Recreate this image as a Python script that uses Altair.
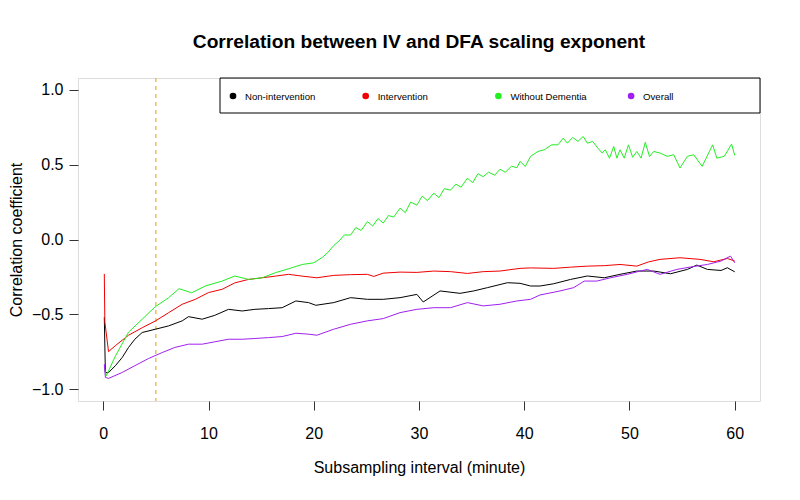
import altair as alt
import pandas as pd

# ---- data ----
series_names = ["Non-intervention", "Intervention", "Without Dementia", "Overall"]
series_colors = ["#000000", "#F00000", "#22EE22", "#A020F0"]

non_x = [0.1, 0.2, 0.5, 1.15, 1.8, 2.4, 3.0, 3.7, 4.95, 6.2, 7.5, 8.1, 9.4, 10.6, 11.9, 13.2,
         14.4, 15.7, 17.0, 18.3, 19.5, 20.2, 21.9, 23.5, 25.1, 26.6, 28.2, 29.8, 30.4, 32.0,
         33.9, 35.2, 36.5, 38.4, 39.6, 40.6, 41.5, 42.8, 44.4, 46.0, 47.6, 49.1, 50.7, 52.3,
         53.9, 55.5, 56.4, 57.4, 58.7, 59.3, 60.0]
non_y = [-0.52, -0.89, -0.89, -0.844, -0.789, -0.722, -0.667, -0.622, -0.6, -0.578, -0.544,
         -0.516, -0.533, -0.507, -0.467, -0.478, -0.467, -0.462, -0.456, -0.411, -0.422, -0.44,
         -0.422, -0.389, -0.4, -0.4, -0.389, -0.367, -0.418, -0.344, -0.36, -0.344, -0.322,
         -0.289, -0.293, -0.311, -0.311, -0.296, -0.267, -0.244, -0.256, -0.233, -0.211,
         -0.211, -0.229, -0.2, -0.171, -0.2, -0.207, -0.189, -0.216]

int_x = [0.1, 0.15, 0.5, 1.15, 2.4, 3.7, 4.95, 6.2, 7.5, 8.75, 10.0, 11.3, 12.5, 13.8, 15.1,
         16.35, 17.6, 18.9, 20.3, 21.9, 23.5, 25.1, 25.7, 26.6, 28.2, 29.8, 31.4, 33.0, 34.6,
         36.1, 37.7, 39.6, 40.6, 42.8, 44.4, 46.0, 47.6, 49.1, 50.7, 51.8, 52.9, 54.8, 56.7,
         58.0, 59.3, 60.0]
int_y = [-0.23, -0.55, -0.75, -0.71, -0.64, -0.59, -0.545, -0.49, -0.433, -0.40, -0.355,
         -0.333, -0.29, -0.267, -0.256, -0.245, -0.233, -0.245, -0.256, -0.24, -0.235, -0.233,
         -0.247, -0.225, -0.218, -0.22, -0.211, -0.215, -0.227, -0.215, -0.211, -0.193, -0.19,
         -0.193, -0.185, -0.178, -0.175, -0.167, -0.178, -0.15, -0.133, -0.122, -0.133,
         -0.149, -0.127, -0.144]

wd_x = [0.1, 0.3, 1.15, 2.4, 3.7, 4.95, 6.2, 7.2, 8.4, 9.7, 11.3, 12.5, 13.8, 15.1, 16.35,
        17.6, 18.9, 20.0, 20.8, 21.3, 21.9, 22.4, 22.9, 23.5, 24.0, 24.5, 25.1, 25.6, 26.1,
        26.6, 27.1, 27.6, 28.2, 28.7, 29.2, 29.8, 30.3, 30.8, 31.4, 31.9, 32.4, 33.0, 33.5,
        34.0, 34.6, 35.1, 35.6, 36.1, 36.6, 37.2, 37.7, 38.2, 38.8, 39.3, 39.6, 40.1, 40.6,
        41.3, 41.9, 42.6, 43.2, 43.7, 44.1, 44.6, 45.1, 45.6, 46.0, 46.5, 47.0, 47.4, 47.7,
        48.1, 48.5, 48.8, 49.1, 49.5, 49.9, 50.3, 50.7, 51.1, 51.5, 51.9, 52.3, 52.9, 53.6,
        54.2, 54.8, 55.5, 56.1, 56.9, 57.9, 58.3, 59.0, 59.7, 60.0]
wd_y = [-0.86, -0.91, -0.78, -0.62, -0.533, -0.449, -0.39, -0.329, -0.356, -0.311, -0.278,
        -0.244, -0.267, -0.256, -0.222, -0.196, -0.167, -0.156, -0.12, -0.09, -0.04, -0.01,
        0.03, 0.03, 0.08, 0.06, 0.12, 0.09, 0.14, 0.11, 0.16, 0.15, 0.21, 0.18, 0.25, 0.23,
        0.29, 0.26, 0.31, 0.28, 0.34, 0.33, 0.37, 0.35, 0.41, 0.38, 0.44, 0.42, 0.45, 0.43,
        0.47, 0.45, 0.49, 0.48, 0.522, 0.489, 0.556, 0.589, 0.6, 0.633, 0.633, 0.678, 0.644,
        0.683, 0.656, 0.689, 0.644, 0.656, 0.611, 0.578, 0.6, 0.544, 0.622, 0.544, 0.6, 0.544,
        0.633, 0.55, 0.589, 0.544, 0.65, 0.555, 0.589, 0.578, 0.556, 0.567, 0.478, 0.556,
        0.567, 0.489, 0.633, 0.544, 0.556, 0.638, 0.562]

ov_x = [0.1, 0.2, 0.5, 1.8, 3.0, 4.3, 5.6, 6.8, 8.1, 9.4, 10.6, 11.9, 13.2, 14.4, 15.7, 17.0,
        18.3, 19.5, 20.3, 21.9, 23.5, 25.1, 26.6, 28.2, 29.8, 31.4, 33.0, 34.6, 36.1, 37.7,
        39.3, 40.6, 41.5, 43.4, 44.7, 45.7, 46.9, 48.2, 49.8, 51.0, 51.7, 52.9, 54.5, 55.8,
        57.4, 58.7, 59.6, 60.0]
ov_y = [-0.833, -0.922, -0.929, -0.889, -0.844, -0.796, -0.756, -0.722, -0.7, -0.7, -0.684,
        -0.667, -0.667, -0.662, -0.656, -0.649, -0.627, -0.633, -0.64, -0.6, -0.567, -0.544,
        -0.529, -0.489, -0.467, -0.456, -0.456, -0.422, -0.444, -0.433, -0.411, -0.4, -0.371,
        -0.344, -0.322, -0.278, -0.278, -0.256, -0.233, -0.211, -0.2, -0.233, -0.2, -0.184,
        -0.167, -0.144, -0.111, -0.156]

cutoff_x = [5]
x_ticks = [0, 10, 20, 30, 40, 50, 60]
y_ticks = [-1.0, -0.5, 0.0, 0.5, 1.0]

frames = []
for order, (name, xs, ys) in enumerate(zip(series_names, [non_x, int_x, wd_x, ov_x],
                                           [non_y, int_y, wd_y, ov_y])):
    frames.append(pd.DataFrame({"x": xs, "y": ys, "series": name, "order": order}))
df = pd.concat(frames, ignore_index=True)
legend_df = pd.DataFrame({"series": series_names})

FONT = "Liberation Sans"

x_enc = alt.X("x:Q", scale=alt.Scale(domain=[-2.4, 62.4], nice=False, zero=False),
              axis=alt.Axis(values=x_ticks, title="Subsampling interval (minute)",
                            grid=False, domain=False, tickSize=9, tickColor="#333333",
                            labelPadding=15, titlePadding=18, labelFontSize=16,
                            titleFontSize=16, titleFontWeight="normal", labelFont=FONT,
                            titleFont=FONT, labelColor="black", titleColor="black",
                            labelFlush=False))
y_enc = alt.Y("y:Q", scale=alt.Scale(domain=[-1.08, 1.08], nice=False, zero=False),
              axis=alt.Axis(values=y_ticks, format=".1f", title="Correlation coefficient",
                            grid=False, domain=False, tickSize=9, tickColor="#333333",
                            labelPadding=6, titlePadding=7, labelFontSize=16,
                            titleFontSize=16, titleFontWeight="normal", labelFont=FONT,
                            titleFont=FONT, labelColor="black", titleColor="black",
                            labelAngle=0, labelFlush=False))

color_scale = alt.Scale(domain=series_names, range=series_colors)

lines = alt.Chart(df).mark_line(strokeWidth=1).encode(
    x=x_enc, y=y_enc,
    stroke=alt.Stroke("series:N", scale=color_scale, legend=None),
    detail="series:N",
    order="x:Q",
)

# hand-built legend inside a box at the top right of the plot (positions in pixels)
box = alt.Chart(alt.Data(values=[{}])).mark_rect(fillOpacity=0, stroke="black",
                                                  strokeWidth=1).encode(
    x=alt.value(142), x2=alt.value(682), y=alt.value(0), y2=alt.value(35))

legend_layers = []
for i, name in enumerate(series_names):
    px = 155 + i * 132.7
    base = alt.Chart(legend_df).transform_filter(alt.datum.series == name)
    legend_layers.append(base.mark_point(filled=True, size=44, opacity=1).encode(
        x=alt.value(px), y=alt.value(18),
        fill=alt.Fill("series:N", scale=color_scale, legend=None)))
    legend_layers.append(base.mark_text(align="left", baseline="middle", fontSize=9.6,
                                        font=FONT, color="black").encode(
        x=alt.value(px + 12), y=alt.value(18.5), text="series:N"))

cut = alt.Chart(pd.DataFrame({"x": cutoff_x})).mark_rule(
    color="#EE9A00", strokeDash=[4, 4], strokeWidth=1).encode(x="x:Q")

chart = alt.layer(box, cut, lines, *legend_layers).properties(
    width=682, height=323,
    title=alt.Title("Correlation between IV and DFA scaling exponent", fontSize=19.2,
                    font=FONT, fontWeight="bold", color="black", offset=25, anchor="middle"),
    padding={"left": 70, "top": 70, "right": 32, "bottom": 91},
    autosize=alt.AutoSizeParams(type="none"),
).configure_view(stroke="#222222", strokeWidth=1).configure(background="white")

chart.save("out.html", embed_options={"renderer": "svg", "actions": False})
